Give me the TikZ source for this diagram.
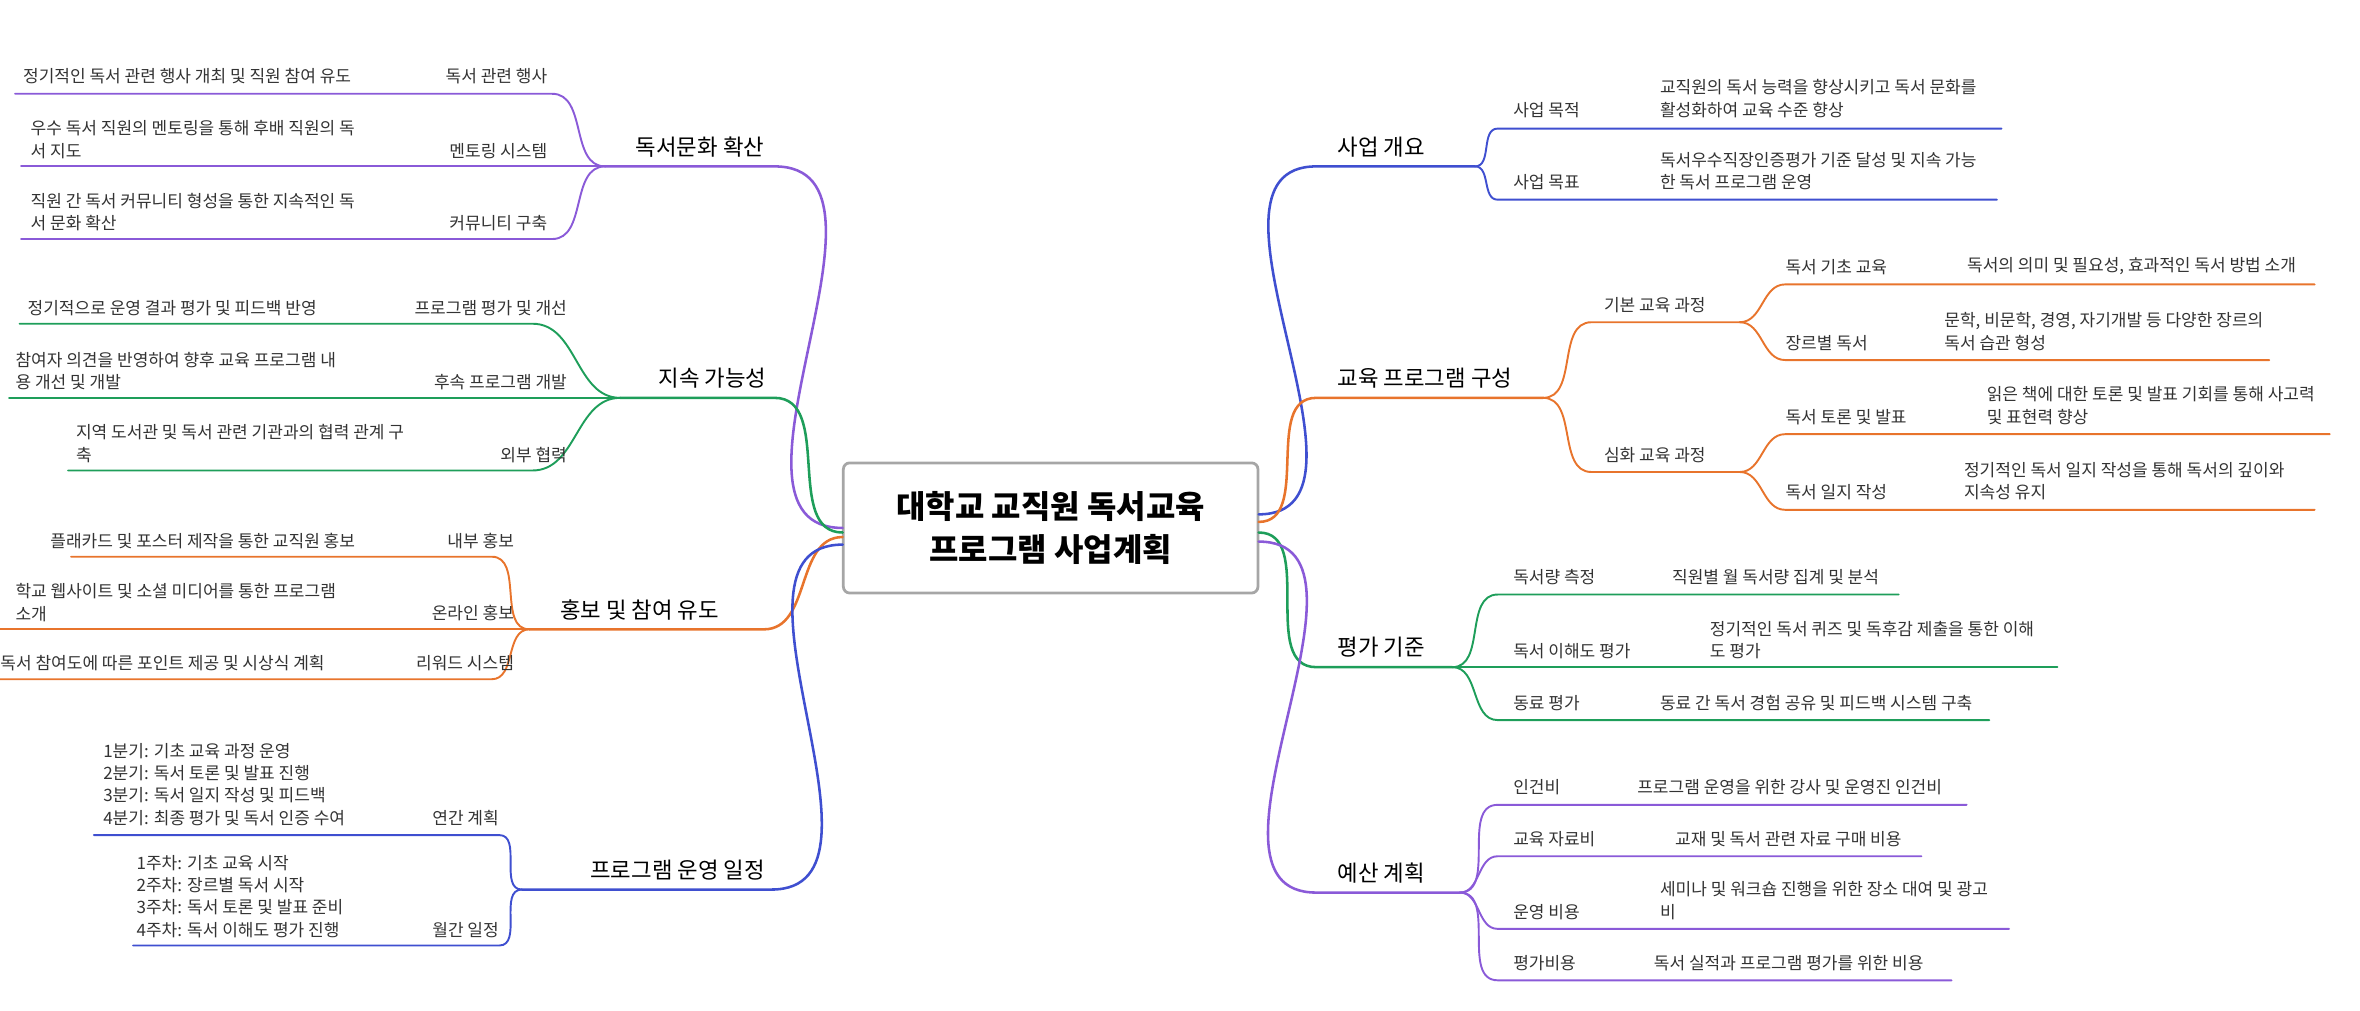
\documentclass[tikz,border=0pt]{standalone}
\usepackage{fontspec}
\setmainfont{Noto Sans CJK KR}
\usetikzlibrary{positioning}
\definecolor{cpurple}{HTML}{8A5AD8}
\definecolor{cgreen}{HTML}{1E9E5A}
\definecolor{corange}{HTML}{E8742C}
\definecolor{cblue}{HTML}{3F4FD0}
\definecolor{ctxt}{HTML}{333333}
\tikzset{
  desc/.style={font=\fontsize{8}{10.5}\selectfont, text=ctxt, inner sep=0pt, align=left, anchor=south west},
  sublbl/.style={font=\fontsize{8}{10}\selectfont, text=ctxt, inner sep=0pt, anchor=south west},
  lsublbl/.style={sublbl, anchor=south east},
  branch/.style={font=\fontsize{10.5}{12}\selectfont, text=black, inner sep=0pt, anchor=south west},
  edge/.style={line width=0.9pt, line cap=round},
  mainedge/.style={line width=1.2pt, line cap=round},
}
\begin{document}
\begin{tikzpicture}[x=0.025cm,y=-0.025cm]
  \useasboundingbox (0,0) rectangle (1560,668);
  % centre
  \node[draw=gray!70, line width=1.3pt, rounded corners=3pt, minimum width=6.85cm, minimum height=2.15cm,
    align=center, font=\fontsize{15}{20}\selectfont\bfseries] (root) at (694.5,349)
    {대학교 교직원 독서교육\\프로그램 사업계획};

  % ---- left: 독서문화 확산
  \coordinate (jA) at (400,110);
  \draw[cpurple, mainedge] (557,349) to[out=180,in=0] (512,110) -- (jA);
  \draw[cpurple, edge] (jA) to[out=180,in=0] (365,62) -- (10,62);
  \draw[cpurple, edge] (jA) -- (14,110);
  \draw[cpurple, edge] (jA) to[out=180,in=0] (365,158) -- (14,158);
  \node[branch] (culture) at (420,104) {독서문화 확산};
  \node[lsublbl] (event) at (362,56) {독서 관련 행사};
  \node[lsublbl] (mentor) at (362,105) {멘토링 시스템};
  \node[lsublbl] (commu) at (362,153) {커뮤니티 구축};
  \node[desc] (eventd) at (15,56) {정기적인 독서 관련 행사 개최 및 직원 참여 유도};
  \node[desc] (mentord) at (20,105) {우수 독서 직원의 멘토링을 통해 후배 직원의 독\\서 지도};
  \node[desc] (commud) at (20,153) {직원 간 독서 커뮤니티 형성을 통한 지속적인 독\\서 문화 확산};

  % ---- left: 지속 가능성
  \coordinate (jB) at (410,263);
  \draw[cgreen, mainedge] (557,352) to[out=180,in=0] (512,263) -- (jB);
  \draw[cgreen, edge] (jB) to[out=180,in=0] (352,214) -- (13,214);
  \draw[cgreen, edge] (jB) -- (6,263);
  \draw[cgreen, edge] (jB) to[out=180,in=0] (352,311) -- (45,311);
  \node[branch] (sustain) at (435,257) {지속 가능성};
  \node[lsublbl] (review) at (375,209) {프로그램 평가 및 개선};
  \node[lsublbl] (follow) at (375,258) {후속 프로그램 개발};
  \node[lsublbl] (extern) at (375,306) {외부 협력};
  \node[desc] (reviewd) at (18,209) {정기적으로 운영 결과 평가 및 피드백 반영};
  \node[desc] (followd) at (10,258) {참여자 의견을 반영하여 향후 교육 프로그램 내\\용 개선 및 개발};
  \node[desc] (externd) at (50,306) {지역 도서관 및 독서 관련 기관과의 협력 관계 구\\축};

  % ---- left: 홍보 및 참여 유도
  \coordinate (jC) at (350,416);
  \draw[corange, mainedge] (557,355) to[out=180,in=0] (505,416) -- (jC);
  \draw[corange, edge] (jC) to[out=180,in=0] (325,368) -- (47,368);
  \draw[corange, edge] (jC) -- (0,416);
  \draw[corange, edge] (jC) to[out=180,in=0] (325,449) -- (0,449);
  \node[branch] (promo) at (370,410) {홍보 및 참여 유도};
  \node[lsublbl] (inner) at (340,363) {내부 홍보};
  \node[lsublbl] (online) at (340,411) {온라인 홍보};
  \node[lsublbl] (reward) at (340,444) {리워드 시스템};
  \node[desc] (innerd) at (33,363) {플래카드 및 포스터 제작을 통한 교직원 홍보};
  \node[desc] (onlined) at (10,411) {학교 웹사이트 및 소셜 미디어를 통한 프로그램\\소개};
  \node[desc] (rewardd) at (0,444) {독서 참여도에 따른 포인트 제공 및 시상식 계획};

  % ---- left: 프로그램 운영 일정
  \coordinate (jD) at (345,588);
  \draw[cblue, mainedge] (557,360) to[out=180,in=0] (510,588) -- (jD);
  \draw[cblue, edge] (jD) to[out=180,in=0] (330,552) -- (62,552);
  \draw[cblue, edge] (jD) to[out=180,in=0] (330,625) -- (88,625);
  \node[branch] (sched) at (390,582) {프로그램 운영 일정};
  \node[lsublbl] (year) at (330,546) {연간 계획};
  \node[lsublbl] (month) at (330,620) {월간 일정};
  \node[desc] (yeard) at (68,546) {1분기: 기초 교육 과정 운영\\2분기: 독서 토론 및 발표 진행\\3분기: 독서 일지 작성 및 피드백\\4분기: 최종 평가 및 독서 인증 수여};
  \node[desc] (monthd) at (90,620) {1주차: 기초 교육 시작\\2주차: 장르별 독서 시작\\3주차: 독서 토론 및 발표 준비\\4주차: 독서 이해도 평가 진행};

  % ---- right: 사업 개요
  \coordinate (kA) at (975,110);
  \draw[cblue, mainedge] (832,340) to[out=0,in=180] (870,110) -- (kA);
  \draw[cblue, edge] (kA) to[out=0,in=180] (990,85) -- (1323,85);
  \draw[cblue, edge] (kA) to[out=0,in=180] (990,132) -- (1320,132);
  \node[branch] (outline) at (884,104) {사업 개요};
  \node[sublbl] (purpose) at (1000,78) {사업 목적};
  \node[sublbl] (goal) at (1000,126) {사업 목표};
  \node[desc] (purposed) at (1097,78) {교직원의 독서 능력을 향상시키고 독서 문화를\\활성화하여 교육 수준 향상};
  \node[desc] (goald) at (1097,126) {독서우수직장인증평가 기준 달성 및 지속 가능\\한 독서 프로그램 운영};

  % ---- right: 교육 프로그램 구성
  \coordinate (kB) at (1020,263);
  \coordinate (kB1) at (1150,213);
  \coordinate (kB2) at (1150,312);
  \draw[corange, mainedge] (832,345) to[out=0,in=180] (870,263) -- (kB);
  \draw[corange, edge] (kB) to[out=0,in=180] (1052,213) -- (kB1);
  \draw[corange, edge] (kB) to[out=0,in=180] (1052,312) -- (kB2);
  \draw[corange, edge] (kB1) to[out=0,in=180] (1180,188) -- (1530,188);
  \draw[corange, edge] (kB1) to[out=0,in=180] (1180,238) -- (1500,238);
  \draw[corange, edge] (kB2) to[out=0,in=180] (1180,287) -- (1540,287);
  \draw[corange, edge] (kB2) to[out=0,in=180] (1180,337) -- (1530,337);
  \node[branch] (edu) at (884,257) {교육 프로그램 구성};
  \node[sublbl] (basic) at (1060,207) {기본 교육 과정};
  \node[sublbl] (adv) at (1060,306) {심화 교육 과정};
  \node[sublbl] (found) at (1180,182) {독서 기초 교육};
  \node[sublbl] (genre) at (1180,232) {장르별 독서};
  \node[sublbl] (debate) at (1180,281) {독서 토론 및 발표};
  \node[sublbl] (diary) at (1180,331) {독서 일지 작성};
  \node[desc] (foundd) at (1300,182) {독서의 의미 및 필요성, 효과적인 독서 방법 소개};
  \node[desc] (genred) at (1285,232) {문학, 비문학, 경영, 자기개발 등 다양한 장르의\\독서 습관 형성};
  \node[desc] (debated) at (1313,281) {읽은 책에 대한 토론 및 발표 기회를 통해 사고력\\및 표현력 향상};
  \node[desc] (diaryd) at (1298,331) {정기적인 독서 일지 작성을 통해 독서의 깊이와\\지속성 유지};

  % ---- right: 평가 기준
  \coordinate (kC) at (960,441);
  \draw[cgreen, mainedge] (832,352) to[out=0,in=180] (870,441) -- (kC);
  \draw[cgreen, edge] (kC) to[out=0,in=180] (990,393) -- (1255,393);
  \draw[cgreen, edge] (kC) -- (1360,441);
  \draw[cgreen, edge] (kC) to[out=0,in=180] (990,476) -- (1315,476);
  \node[branch] (eval) at (884,435) {평가 기준};
  \node[sublbl] (amount) at (1000,387) {독서량 측정};
  \node[sublbl] (underst) at (1000,436) {독서 이해도 평가};
  \node[sublbl] (peer) at (1000,470) {동료 평가};
  \node[desc] (amountd) at (1105,387) {직원별 월 독서량 집계 및 분석};
  \node[desc] (understd) at (1130,436) {정기적인 독서 퀴즈 및 독후감 제출을 통한 이해\\도 평가};
  \node[desc] (peerd) at (1097,470) {동료 간 독서 경험 공유 및 피드백 시스템 구축};

  % ---- right: 예산 계획
  \coordinate (kD) at (965,590);
  \draw[cpurple, mainedge] (832,358) to[out=0,in=180] (870,590) -- (kD);
  \draw[cpurple, edge] (kD) to[out=0,in=180] (990,532) -- (1300,532);
  \draw[cpurple, edge] (kD) to[out=0,in=180] (990,566) -- (1270,566);
  \draw[cpurple, edge] (kD) to[out=0,in=180] (990,614) -- (1328,614);
  \draw[cpurple, edge] (kD) to[out=0,in=180] (990,648) -- (1290,648);
  \node[branch] (budget) at (884,584) {예산 계획};
  \node[sublbl] (labor) at (1000,526) {인건비};
  \node[sublbl] (material) at (1000,560) {교육 자료비};
  \node[sublbl] (oper) at (1000,608) {운영 비용};
  \node[sublbl] (evalcost) at (1000,642) {평가비용};
  \node[desc] (labord) at (1082,526) {프로그램 운영을 위한 강사 및 운영진 인건비};
  \node[desc] (materiald) at (1107,560) {교재 및 독서 관련 자료 구매 비용};
  \node[desc] (operd) at (1097,608) {세미나 및 워크숍 진행을 위한 장소 대여 및 광고\\비};
  \node[desc] (evalcostd) at (1093,642) {독서 실적과 프로그램 평가를 위한 비용};
\end{tikzpicture}
\end{document}
